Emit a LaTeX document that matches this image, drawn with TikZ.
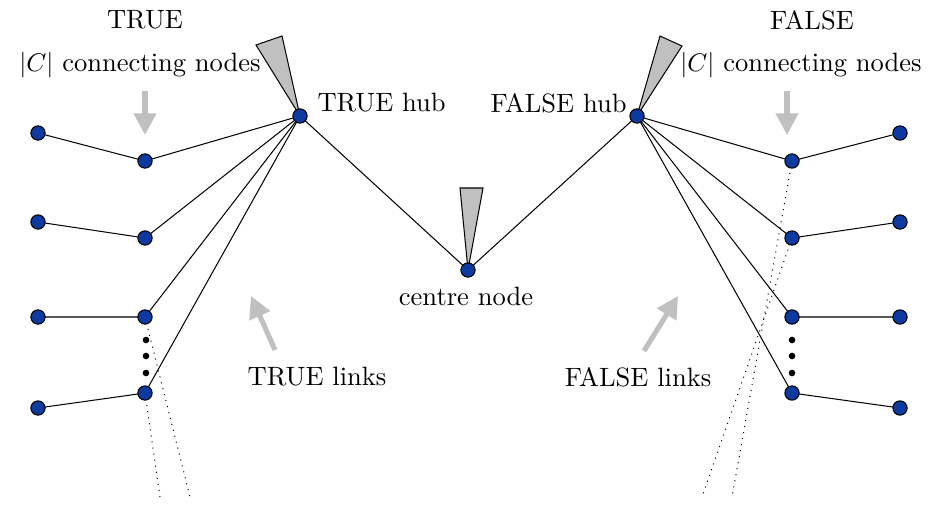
\documentclass[tikz,border=0pt]{standalone}
\usetikzlibrary{arrows.meta}
\definecolor{nodeblue}{RGB}{12,58,160}
\definecolor{hintgray}{RGB}{192,192,192}
\tikzset{
  vtx/.style={circle,draw=black,fill=nodeblue,line width=0.4pt,inner sep=0pt,minimum size=5.6pt},
  edge/.style={line width=0.4pt},
  tail/.style={line width=0.4pt,dotted},
  spike/.style={draw=black,fill=hintgray,line width=0.4pt,line join=miter},
  hint/.style={draw=hintgray,line width=2pt,-{Triangle[width=8.5pt,length=8.5pt]}},
  dot/.style={circle,fill=black,inner sep=0pt,minimum size=2.6pt},
  lbl/.style={inner sep=0pt,font=\fontsize{10.4}{12}\selectfont}
}
\begin{document}
\begin{tikzpicture}[x=0.3922pt,y=-0.3922pt]
\useasboundingbox (0,0) rectangle (934,506);

% hubs and centre
\coordinate (th) at (300,116);
\coordinate (fh) at (637,116);
\coordinate (cn) at (468,270);

% grey spikes above the hubs and centre
\draw[spike] (th) -- (256,45) -- (282,36) -- cycle;
\draw[spike] (cn) -- (460,188) -- (483,188) -- cycle;
\draw[spike] (fh) -- (660,36) -- (682,46) -- cycle;

% left connecting nodes and their outer partners
\foreach \i/\yi/\yo in {1/161/133,2/238/222,3/317/317,4/393/408}{
  \coordinate (li\i) at (145,\yi);
  \coordinate (lo\i) at (38,\yo);
  \coordinate (ri\i) at (792,\yi);
  \coordinate (ro\i) at (900,\yo);
}

% free ends of the dotted tails
\coordinate (lt3) at (190,497);
\coordinate (lt4) at (160,497);
\coordinate (rt1) at (732,497);
\coordinate (rt2) at (702,497);

\draw[tail] (li3) -- (lt3);
\draw[tail] (li4) -- (lt4);
\draw[tail] (ri1) -- (rt1);
\draw[tail] (ri2) -- (rt2);

\foreach \i in {1,...,4}{
  \draw[edge] (lo\i) -- (li\i) -- (th);
  \draw[edge] (ro\i) -- (ri\i) -- (fh);
}
\draw[edge] (th) -- (cn) -- (fh);

% vertices
\foreach \i in {1,...,4}{
  \node[vtx] (Li\i) at (li\i) {};
  \node[vtx] (Lo\i) at (lo\i) {};
  \node[vtx] (Ri\i) at (ri\i) {};
  \node[vtx] (Ro\i) at (ro\i) {};
}
\node[vtx] (TH) at (th) {};
\node[vtx] (FH) at (fh) {};
\node[vtx] (CN) at (cn) {};

% ellipsis dots
\foreach \y [count=\k] in {340,356,373}{
  \node[dot] (ld\k) at (146,\y) {};
  \node[dot] (rd\k) at (792,\y) {};
}

% labels
\node[lbl] (tTrue) at (145,20) {TRUE};
\node[lbl] (tFalse) at (812,20) {FALSE};
\node[lbl] (tLC) at (140,65) {$|C|$ connecting nodes};
\node[lbl] (tRC) at (801,65) {$|C|$ connecting nodes};
\node[lbl,anchor=west] (tTH) at (317,103) {TRUE hub};
\node[lbl,anchor=east] (tFH) at (627,103) {FALSE hub};
\node[lbl] (tCN) at (466,296) {centre node};
\node[lbl] (tTL) at (317,377) {TRUE links};
\node[lbl] (tFL) at (638,377) {FALSE links};

% grey pointers
\coordinate (pl1) at (145,91);
\coordinate (pl2) at (145,135);
\coordinate (pr1) at (787,91);
\coordinate (pr2) at (787,135);
\coordinate (pt1) at (275,350);
\coordinate (pt2) at (251,296);
\coordinate (pf1) at (644,351);
\coordinate (pf2) at (678,296);
\draw[hint] (pl1) -- (pl2);
\draw[hint] (pr1) -- (pr2);
\draw[hint] (pt1) -- (pt2);
\draw[hint] (pf1) -- (pf2);
\end{tikzpicture}
\end{document}
